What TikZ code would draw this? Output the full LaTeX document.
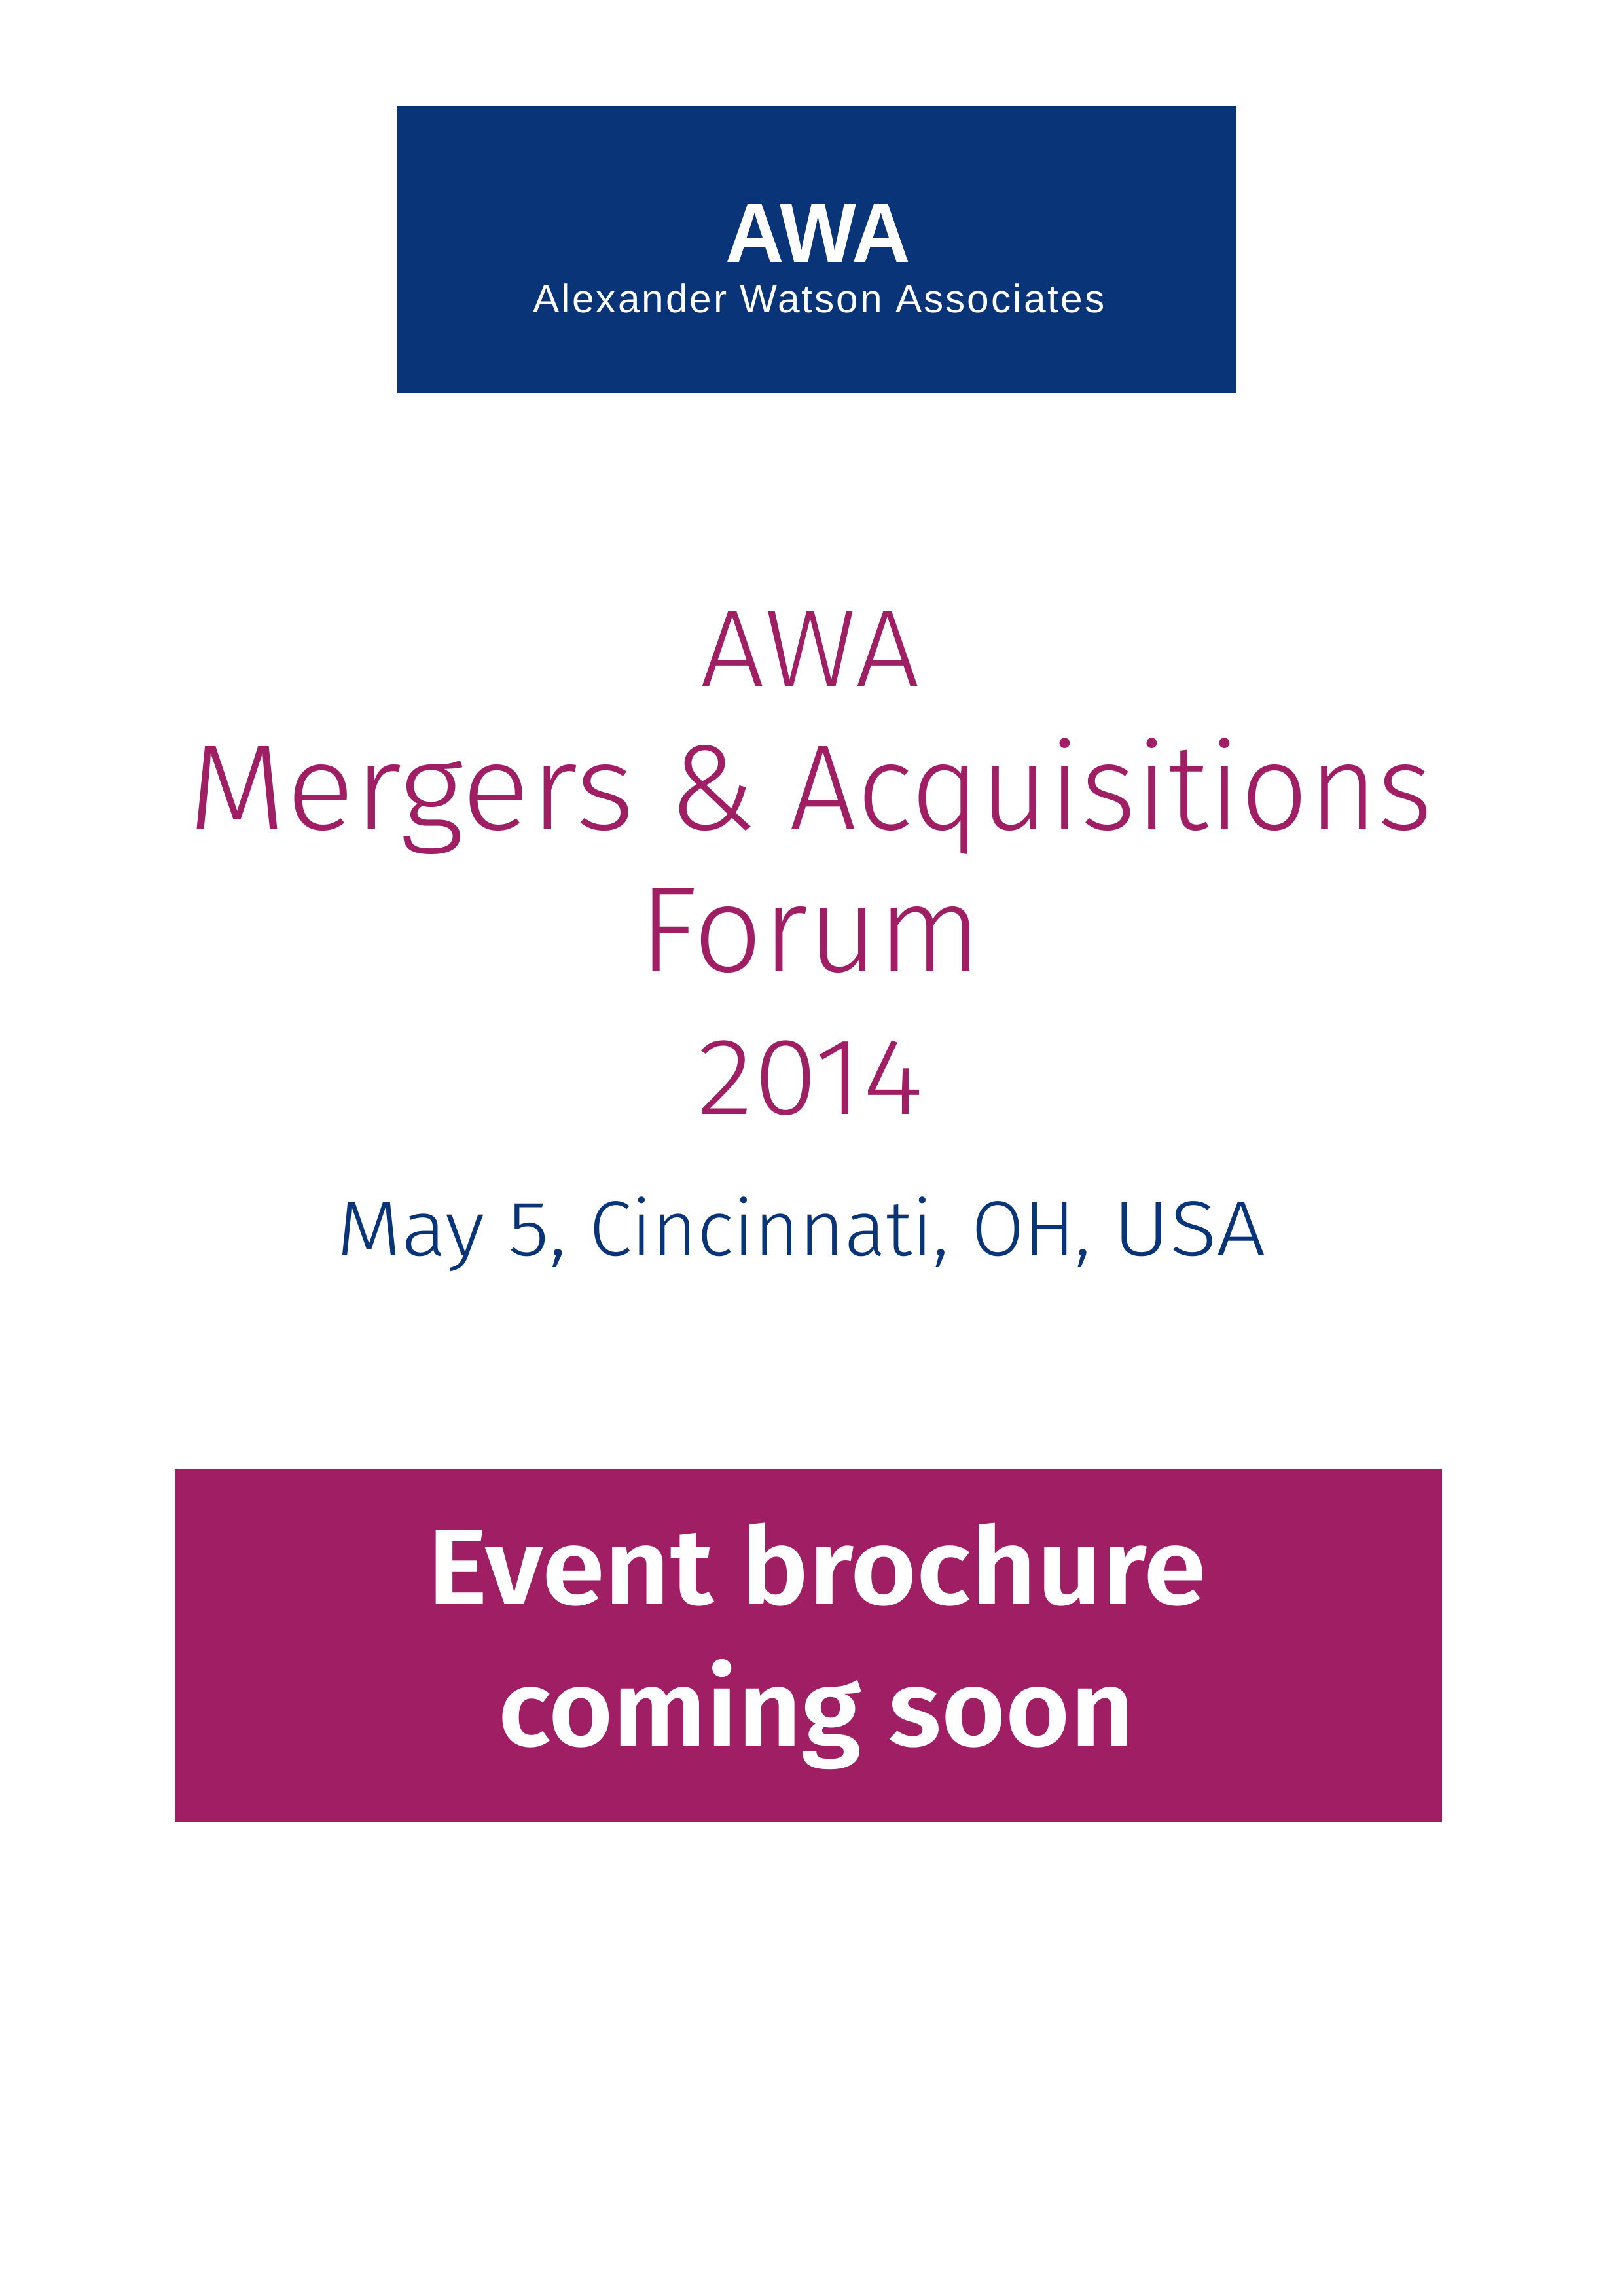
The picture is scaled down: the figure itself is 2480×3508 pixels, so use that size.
\documentclass[tikz,border=0pt]{standalone}
\usepackage{graphicx}
\usepackage{fontspec}
\setmainfont{Fira Sans Light}
\newfontfamily\logofont{Liberation Sans}
\newfontfamily\logospaced[LetterSpace=5]{Liberation Sans}
\newfontfamily\boldfont{Fira Sans SemiBold}
\definecolor{awablue}{HTML}{0A3478}
\definecolor{awapurple}{HTML}{A01E63}
\tikzset{
  title/.style={text=awapurple,inner sep=0pt,anchor=base},
  subtitle/.style={text=awablue,inner sep=0pt,anchor=base},
  banner/.style={text=white,inner sep=0pt,anchor=base},
}
\begin{document}
\begin{tikzpicture}[x=0.24pt,y=-0.24pt]
\useasboundingbox (0,0) rectangle (2480,3508);
\fill[white] (0,0) rectangle (2480,3508);
\fill[awablue] (607,162) rectangle (1889,601);
\fill[awapurple] (267,2245) rectangle (2203,2784);
\node[banner] (logo) at (1250,401) {\scalebox{0.96}[1]{\logofont\bfseries\fontsize{31}{31}\selectfont AWA}};
\node[banner] (assoc) at (1251,478) {\logospaced\fontsize{14.5}{14.5}\selectfont Alexander Watson Associates};
\node[title] (t1) at (1238,1048) {\scalebox{1.035}[1]{\fontsize{40}{40}\selectfont AWA}};
\node[title] (t2) at (1238,1267) {\fontsize{44.5}{44.5}\selectfont \scalebox{1.05}[1]{Mergers} \& \scalebox{0.978}[1]{Acquisitions}};
\node[title] (t3) at (1238,1484) {\fontsize{44.5}{44.5}\selectfont Forum};
\node[title] (t4) at (1238,1702) {\scalebox{1.07}[1]{\fontsize{40}{40}\selectfont 2014}};
\node[subtitle] (t5) at (1224,1918) {\scalebox{1.02}[1]{\fontsize{28.6}{28.6}\selectfont \scalebox{1.06}[1]{May 5,} \scalebox{0.97}[1]{Cincinnati,} \scalebox{0.96}[1]{OH,} \scalebox{1.1}[1]{USA}}};
\node[banner] (b1) at (1248,2451) {\scalebox{1.054}[1]{\boldfont\fontsize{39.5}{39.5}\selectfont Event brochure}};
\node[banner] (b2) at (1247,2667) {\scalebox{1.024}[1]{\boldfont\fontsize{39.5}{39.5}\selectfont coming soon}};
\end{tikzpicture}
\end{document}
